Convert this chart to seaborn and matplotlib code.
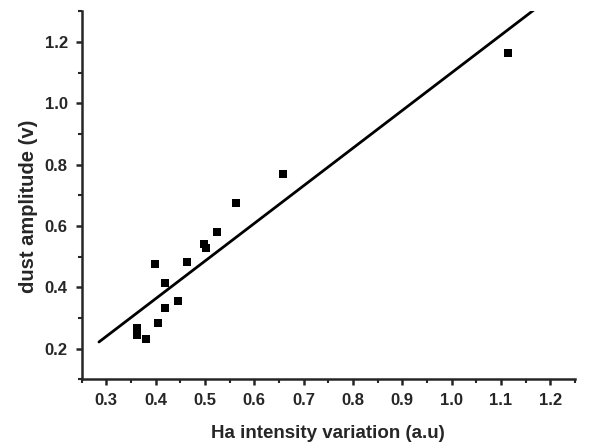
import numpy as np
import pandas as pd
import seaborn as sns
import matplotlib.pyplot as plt
from matplotlib.ticker import MultipleLocator

# measured points
ha_intensity = [0.399, 0.418, 0.464, 0.497, 0.502, 0.525, 0.446, 0.418,
                0.404, 0.362, 0.362, 0.381, 0.563, 0.658, 1.115]
dust_amp = [0.475, 0.415, 0.482, 0.541, 0.529, 0.581, 0.355, 0.331,
            0.284, 0.267, 0.245, 0.230, 0.676, 0.770, 1.164]

# linear fit shown in the figure
fit_slope = 1.227
fit_intercept = -0.128
fit_x = [0.285, 1.2]

sns.set_style("ticks")
plt.rcParams['font.family'] = ['Liberation Sans', 'DejaVu Sans']
plt.rcParams['font.weight'] = 'bold'

df = pd.DataFrame({'x': ha_intensity, 'y': dust_amp})
line = pd.DataFrame({'x': fit_x})
line['y'] = fit_slope * line['x'] + fit_intercept

fig = plt.figure(figsize=(5.92, 4.46), dpi=100)
ax = fig.add_axes([0.138, 0.1495, 0.833, 0.8255])

sns.lineplot(data=line, x='x', y='y', color='black', linewidth=2, ax=ax)
sns.scatterplot(data=df, x='x', y='y', marker='s', s=32, color='black',
                edgecolor='black', linewidth=0, ax=ax)

ax.set_xlim(0.25, 1.25)
ax.set_ylim(0.1, 1.3)
ax.xaxis.set_minor_locator(MultipleLocator(0.05))
ax.yaxis.set_minor_locator(MultipleLocator(0.1))
ax.set_xticks(np.arange(0.3, 1.21, 0.1))
ax.set_yticks(np.arange(0.2, 1.21, 0.2))
ax.set_xticklabels([f"{v:.1f}" for v in np.arange(0.3, 1.21, 0.1)])
ax.set_yticklabels([f"{v:.1f}" for v in np.arange(0.2, 1.21, 0.2)])

for s in ['top', 'right']:
    ax.spines[s].set_visible(False)
for s in ['left', 'bottom']:
    ax.spines[s].set_linewidth(1.8)
ax.tick_params(which='major', length=4, width=1.8, labelsize=12, pad=6)
ax.tick_params(which='minor', length=3, width=1.5)

ax.set_xlabel('Ha intensity variation (a.u)', fontsize=13.5, fontweight='bold', labelpad=12)
ax.set_ylabel('dust amplitude (v)', fontsize=14.5, fontweight='bold')
ax.yaxis.set_label_coords(-0.088, 0.469)

fig.savefig('out.png', dpi=100)
